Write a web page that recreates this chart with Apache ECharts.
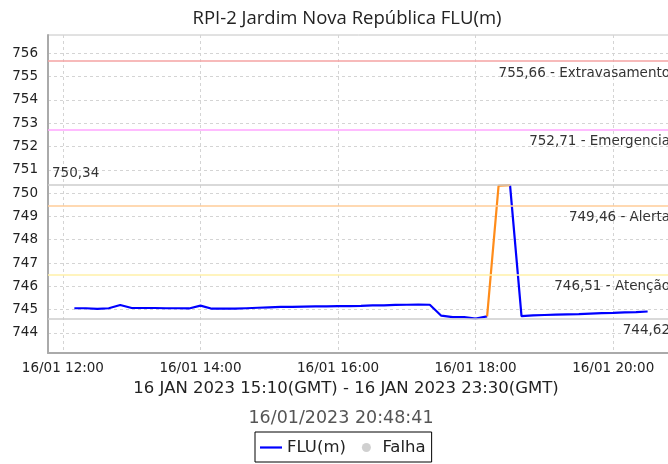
<!DOCTYPE html>
<html>
<head>
<meta charset="utf-8">
<script src="https://cdn.jsdelivr.net/npm/echarts@6/dist/echarts.min.js"></script>
<style>
  html, body { margin: 0; padding: 0; background: #fff; }
  #main { width: 668px; height: 464px; }
</style>
</head>
<body>
<div id="main"></div>
<script>
// leituras a cada 10 min (hora local)
var times = [
  '12:10', '12:20', '12:30', '12:40', '12:50', '13:00', '13:10', '13:20', '13:30', '13:40', '13:50',
  '14:00', '14:10', '14:20', '14:30', '14:40', '14:50', '15:00', '15:10', '15:20', '15:30', '15:40', '15:50',
  '16:00', '16:10', '16:20', '16:30', '16:40', '16:50', '17:00', '17:10', '17:20', '17:30', '17:40', '17:50',
  '18:00', '18:10', '18:20', '18:30', '18:40', '18:50', '19:00', '19:10', '19:20', '19:30', '19:40', '19:50',
  '20:00', '20:10', '20:20', '20:30'
];
var flu = [
  745.06, 745.06, 745.03, 745.06, 745.20, 745.07, 745.07, 745.07, 745.06, 745.06, 745.05,
  745.17, 745.04, 745.04, 745.04, 745.06, 745.08, 745.10, 745.12, 745.12, 745.13, 745.14, 745.14,
  745.15, 745.15, 745.16, 745.18, 745.18, 745.20, 745.21, 745.22, 745.21, 744.74, 744.68, 744.68,
  744.62, 744.71, 750.32, 750.34, 744.72, 744.75, 744.77, 744.79, 744.80, 744.81, 744.83, 744.85,
  744.86, 744.88, 744.89, 744.92
];
// trecho destacado em laranja
var suspectTimes = ['18:10', '18:20', '18:30'];

var thresholds = [
  { value: 755.66, name: 'Extravasamento', color: '#f5a3a3' },
  { value: 752.71, name: 'Emergencia', color: '#ffa6ff' },
  { value: 749.46, name: 'Alerta', color: '#ffcc99' },
  { value: 746.51, name: 'Atenção', color: '#fff0a8' }
];
var maxValue = 750.34;
var minValue = 744.62;

var yTicks = [744, 745, 746, 747, 748, 749, 750, 751, 752, 753, 754, 755, 756];
var xTicks = ['12:00', '14:00', '16:00', '18:00', '20:00'];

// minutos desde 00:00 do dia 16/01
function mins(t) { var p = t.split(':'); return +p[0] * 60 + +p[1]; }
function pad(n) { return (n < 10 ? '0' : '') + n; }
function br(v) { return v.toFixed(2).replace('.', ','); }

var blueData = [], orangeData = [];
times.forEach(function (t, i) {
  var inSuspect = suspectTimes.indexOf(t) >= 0;
  var isEdge = t === suspectTimes[0] || t === suspectTimes[suspectTimes.length - 1];
  blueData.push([mins(t), (!inSuspect || isEdge) ? flu[i] : null]);
  orangeData.push([mins(t), inSuspect ? flu[i] : null]);
});

var markData = thresholds.map(function (th) {
  return {
    yAxis: th.value,
    lineStyle: { color: th.color, width: 1.5, type: 'solid' },
    label: { formatter: br(th.value) + ' - ' + th.name, position: 'insideEndBottom' }
  };
});
markData.push({ yAxis: maxValue, lineStyle: { color: '#cccccc', width: 1.5, type: 'solid' },
  label: { formatter: br(maxValue), position: 'insideStartTop' } });
markData.push({ yAxis: minValue, lineStyle: { color: '#cccccc', width: 1.5, type: 'solid' },
  label: { formatter: br(minValue), position: 'insideEndBottom' } });

var font = 'DejaVu Sans';
var gridDash = { color: '#d4d4d4', type: [3, 3], width: 1 };

var chart = echarts.init(document.getElementById('main'));
chart.setOption({
  animation: false,
  backgroundColor: '#ffffff',
  title: {
    text: 'RPI-2 Jardim Nova República FLU(m)',
    left: 342, top: 4, textAlign: 'center',
    textStyle: { fontFamily: 'Open Sans', fontSize: 18.5, fontWeight: 'normal', color: '#222' }
  },
  graphic: [
    { type: 'text', x: 346, y: 389, style: { text: '16 JAN 2023 15:10(GMT) - 16 JAN 2023 23:30(GMT)',
      align: 'center', verticalAlign: 'middle', fontFamily: font, fontSize: 16.5, fill: '#222' } },
    { type: 'text', x: 341, y: 418, style: { text: '16/01/2023 20:48:41',
      align: 'center', verticalAlign: 'middle', fontFamily: font, fontSize: 17.5, fill: '#555' } }
  ],
  legend: {
    left: 255, top: 432,
    data: [
      { name: 'FLU(m)', icon: 'path://M0,0H20V2H0Z' },
      { name: 'Falha', icon: 'circle' }
    ],
    selectedMode: false,
    borderColor: '#000', borderWidth: 1, padding: [7, 6, 6, 5],
    itemWidth: 22, itemHeight: 9, itemGap: 16,
    textStyle: { fontFamily: font, fontSize: 16.5, color: '#222' }
  },
  grid: {
    left: 48, top: 35, width: 626, height: 318, outerBoundsMode: 'none',
    show: true, borderColor: '#c4c4c4', borderWidth: 1
  },
  xAxis: {
    type: 'value',
    min: mins('11:47'), max: mins('20:53'),
    axisLine: { lineStyle: { color: '#aaaaaa', width: 2 } },
    axisTick: { show: false, customValues: xTicks.map(mins) },
    axisLabel: {
      customValues: xTicks.map(mins),
      formatter: function (v) { return '16/01 ' + pad(Math.floor(v / 60)) + ':' + pad(v % 60); },
      fontFamily: font, fontSize: 13.5, color: '#222', margin: 8
    },
    splitLine: { show: true, lineStyle: gridDash }
  },
  yAxis: {
    type: 'value',
    min: 743.14, max: 756.78,
    axisLine: { show: true, lineStyle: { color: '#aaaaaa', width: 2 } },
    axisTick: { show: false, customValues: yTicks },
    axisLabel: { customValues: yTicks, fontFamily: font, fontSize: 13.5, color: '#222', margin: 10,
      formatter: function (v) { return String(Math.round(v)); } },
    splitLine: { show: true, lineStyle: gridDash }
  },
  series: [
    {
      name: 'FLU(m)', type: 'line', data: blueData, showSymbol: false, connectNulls: false,
      lineStyle: { color: '#0000ff', width: 2.2 }, itemStyle: { color: '#0000ff' },
      markLine: {
        silent: true, symbol: 'none', animation: false,
        label: { fontFamily: font, fontSize: 13.5, color: '#333', distance: [4, 5] },
        data: markData
      },
      z: 3
    },
    {
      name: 'suspeito', type: 'line', data: orangeData, showSymbol: false,
      lineStyle: { color: '#ff8c1a', width: 2.2 }, itemStyle: { color: '#ff8c1a' }, z: 4
    },
    {
      name: 'Falha', type: 'scatter', data: [], itemStyle: { color: '#c4c4c4' }
    }
  ]
});
</script>
</body>
</html>
